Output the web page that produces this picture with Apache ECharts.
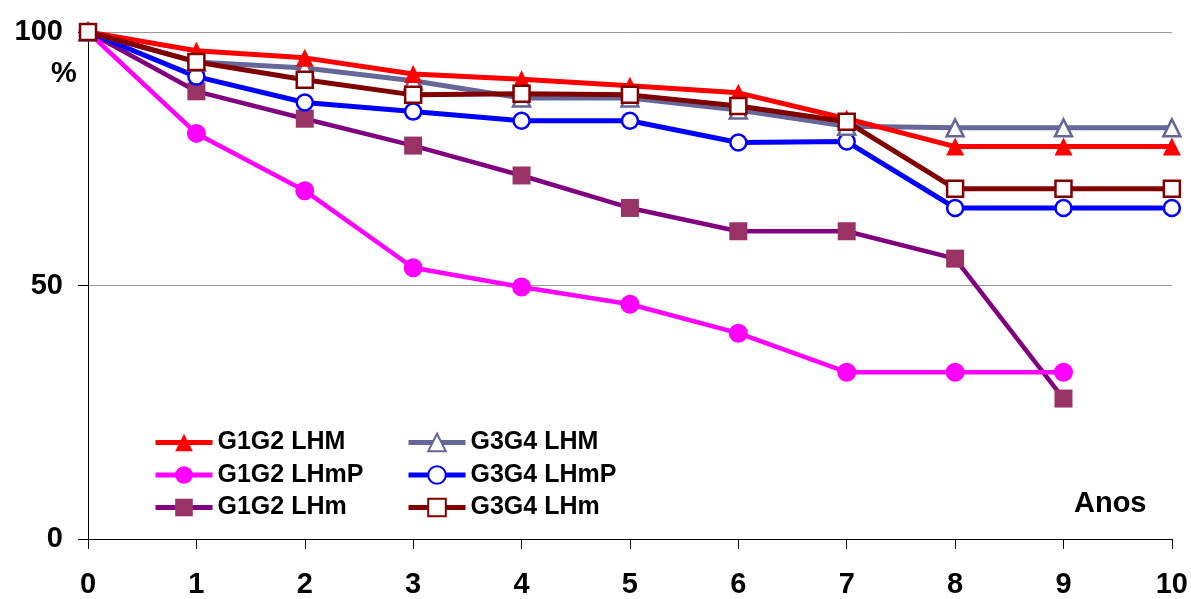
<!DOCTYPE html>
<html>
<head>
<meta charset="utf-8">
<script src="https://cdn.jsdelivr.net/npm/echarts@6/dist/echarts.min.js"></script>
<style>
  html, body { margin: 0; padding: 0; background: #fff; }
  #chart { width: 1191px; height: 599px; }
</style>
</head>
<body>
<div id="chart"></div>
<script>
// Years of follow-up
const years = [0, 1, 2, 3, 4, 5, 6, 7, 8, 9, 10];
const yTicks = [0, 50, 100];

// Survival (%) per group
const g1g2LHM  = [100, 96.3, 94.9, 91.7, 90.7, 89.4, 88.0, 82.9, 77.4, 77.4, 77.4];
const g1g2LHmP = [100, 80.0, 68.7, 53.5, 49.7, 46.3, 40.6, 32.9, 32.9, 32.9];
const g1g2LHm  = [100, 88.3, 82.9, 77.6, 71.7, 65.3, 60.7, 60.7, 55.3, 27.7];
const g3g4LHM  = [100, 94.1, 92.9, 90.4, 87.0, 87.0, 84.6, 81.4, 81.1, 81.1, 81.1];
const g3g4LHmP = [100, 91.2, 86.1, 84.3, 82.5, 82.5, 78.2, 78.4, 65.3, 65.3, 65.3];
const g3g4LHm  = [100, 94.1, 90.6, 87.6, 87.8, 87.6, 85.4, 82.3, 69.1, 69.1, 69.1];

const FONT = '"Liberation Sans", Arial, sans-serif';

function pts(arr) { return arr.map((v, i) => [years[i], v]); }

function makeSeries(name, data, lineColor, lineWidth, symbol, fill, border, size) {
  return {
    name, type: 'line', data: pts(data),
    symbol, symbolSize: size,
    lineStyle: { color: lineColor, width: lineWidth },
    itemStyle: { color: fill, borderColor: border, borderWidth: fill === '#ffffff' ? 2.5 : 0 },
    emphasis: { disabled: true },
    animation: false
  };
}

const series = [
  makeSeries('G1G2 LHm',  g1g2LHm,  '#800080', 4.5, 'rect', '#993366', '#993366', 18),
  makeSeries('G1G2 LHmP', g1g2LHmP, '#FF00FF', 4.5, 'circle', '#FF00FF', '#FF00FF', 19),
  makeSeries('G3G4 LHmP', g3g4LHmP, '#0000FF', 5, 'circle', '#ffffff', '#0000FF', 16),
  makeSeries('G3G4 LHM',  g3g4LHM,  '#666699', 5, 'triangle', '#ffffff', '#666699', 17),
  makeSeries('G1G2 LHM',  g1g2LHM,  '#FF0000', 5, 'triangle', '#FF0000', '#FF0000', 18),
  makeSeries('G3G4 LHm',  g3g4LHm,  '#800000', 5, 'rect', '#ffffff', '#800000', 16)
];

const legendText = { fontFamily: FONT, fontWeight: 'bold', fontSize: 25, lineHeight: 24, color: '#000' };
const legendLine = { width: 5 };

const chart = echarts.init(document.getElementById('chart'), null, { renderer: 'canvas' });
chart.setOption({
  backgroundColor: '#ffffff',
  animation: false,
  grid: { left: 88, right: 19, top: 32, bottom: 59, containLabel: false },
  xAxis: {
    type: 'value', min: 0, max: 10, interval: 1,
    axisLine: { show: true, onZero: false, lineStyle: { color: '#000', width: 1 } },
    axisTick: { show: true, length: 10, lineStyle: { color: '#000' } },
    axisLabel: { margin: 31, fontFamily: FONT, fontWeight: 'bold', fontSize: 29, color: '#000' },
    splitLine: { show: false }
  },
  yAxis: {
    type: 'value', min: yTicks[0], max: yTicks[yTicks.length - 1], interval: 50,
    axisLine: { show: true, lineStyle: { color: '#000', width: 1 } },
    axisTick: { show: true, length: 10, lineStyle: { color: '#000' } },
    axisLabel: { margin: 25, fontFamily: FONT, fontWeight: 'bold', fontSize: 29, color: '#000' },
    splitLine: { show: true, lineStyle: { color: '#999999', width: 1 } }
  },
  legend: [
    {
      orient: 'vertical', left: 148, top: 425, itemGap: 7.5,
      itemWidth: 57, itemHeight: 22, textStyle: legendText, lineStyle: legendLine,
      data: ['G1G2 LHM', 'G1G2 LHmP', 'G1G2 LHm'], selectedMode: false
    },
    {
      orient: 'vertical', left: 401, top: 425, itemGap: 7.5,
      itemWidth: 57, itemHeight: 22, textStyle: legendText, lineStyle: legendLine,
      data: ['G3G4 LHM', 'G3G4 LHmP', 'G3G4 LHm'], selectedMode: false
    }
  ],
  graphic: [
    { type: 'text', left: 51, top: 59, style: { text: '%', font: 'bold 29px ' + FONT, fill: '#000' } },
    { type: 'text', left: 1074, top: 489, style: { text: 'Anos', font: 'bold 29px ' + FONT, fill: '#000' } }
  ],
  series
});
</script>
</body>
</html>
